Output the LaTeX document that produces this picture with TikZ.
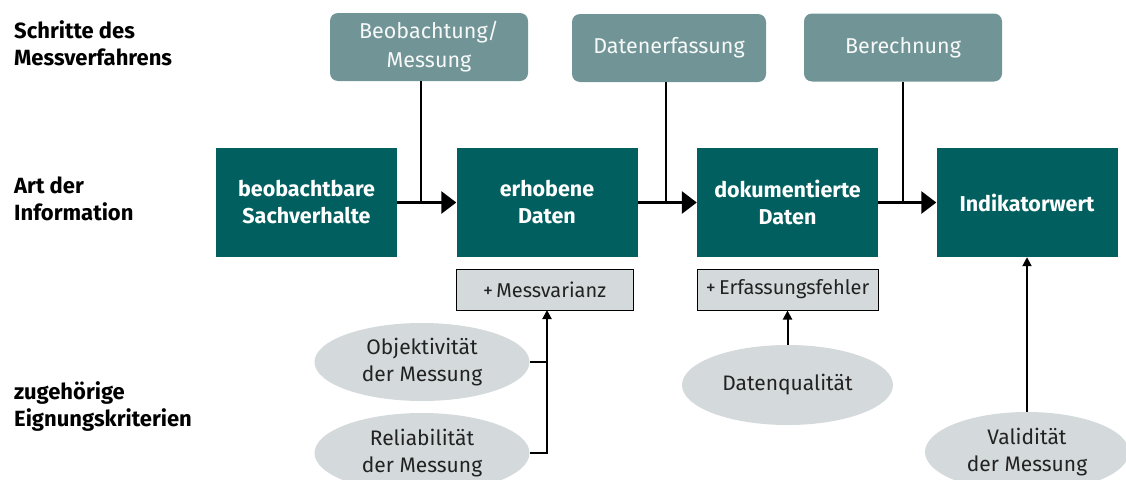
\documentclass[tikz,border=0pt]{standalone}
\usepackage{fontspec}
\setmainfont{Fira Sans}
\usetikzlibrary{arrows.meta,shapes.geometric}
\definecolor{stepfill}{HTML}{719596}
\definecolor{infofill}{HTML}{01605F}
\definecolor{greyfill}{HTML}{D4D9DB}
\definecolor{darktext}{HTML}{222222}
\begin{document}
\begin{tikzpicture}[x=1pt,y=-1pt,
  rowlabel/.style={anchor=west, align=left, inner sep=0pt,
    font=\fontsize{22}{27}\selectfont\bfseries},
  stepbox/.style={rounded corners=8pt, fill=stepfill, text=white!94!stepfill,
    align=center, inner sep=0pt, minimum height=68pt,
    font=\fontsize{21.5}{29}\selectfont},
  infobox/.style={fill=infofill, text=white, align=center, inner sep=0pt,
    minimum width=181pt, minimum height=109pt,
    font=\fontsize{21.5}{27}\selectfont\bfseries},
  errbox/.style={fill=greyfill, draw=black, line width=1pt, text=darktext,
    inner sep=0pt, minimum height=41pt, font=\fontsize{20}{22}\selectfont},
  critnode/.style={ellipse, fill=greyfill, text=darktext, align=center,
    inner sep=0pt, minimum height=78pt, font=\fontsize{21}{27}\selectfont},
  flow/.style={line width=3pt, -{Triangle[length=15pt,width=22pt]}},
  feed/.style={line width=2pt},
  feedarrow/.style={line width=2pt, -{Triangle[length=9pt,width=9pt]}}
]
\clip (0,0) rectangle (1126,479);
\useasboundingbox (0,0) rectangle (1126,479);

% row labels
\node[rowlabel] (l1) at (14,43.5) {Schritte des\\Messverfahrens};
\node[rowlabel] (l2) at (14,198.5) {Art der\\Information};
\node[rowlabel] (l3) at (14,406.5) {zugehörige\\Eignungskriterien};

% measuring steps
\node[stepbox, minimum width=198pt] (t1) at (429,47) {Beobachtung/\\Messung};
\node[stepbox, minimum width=194pt] (t2) at (669,48) {Datenerfassung};
\node[stepbox, minimum width=198pt] (t3) at (903,47.5) {Berechnung};

% kinds of information
\node[infobox] (b1) at (306.5,202.5) {beobachtbare\\Sachverhalte};
\node[infobox] (b2) at (547,202.5) {erhobene\\Daten};
\node[infobox] (b3) at (787.5,202.5) {dokumentierte\\Daten};
\node[infobox] (b4) at (1027,202.5) {Indikatorwert};

% added errors
\node[errbox, minimum width=177pt] (m1) at (544.5,289.5) {+\,Messvarianz};
\node[errbox, minimum width=181pt] (m2) at (787.5,289.5) {+\,Erfassungsfehler};

% criteria
\node[critnode, minimum width=215pt] (e1) at (422,362) {Objektivität\\der Messung};
\node[critnode, minimum width=215pt, minimum height=80pt] (e2) at (422,453) {Reliabilität\\der Messung};
\node[critnode, minimum width=211pt, minimum height=80pt] (e3) at (787.5,385) {Datenqualität};
\node[critnode, minimum width=204pt, minimum height=80pt] (e4) at (1027,452) {Validität\\der Messung};

% main flow
\draw[flow] (b1) -- (b2);
\draw[flow] (b2) -- (b3);
\draw[flow] (b3) -- (b4);

% step feeds into the flow
\coordinate (j1) at (421,202.5);
\coordinate (j2) at (666,202.5);
\coordinate (j3) at (903,202.5);
\draw[feed] (t1.south -| j1) -- (j1);
\draw[feed] (t2.south -| j2) -- (j2);
\draw[feed] (t3.south -| j3) -- (j3);

% criteria links
\coordinate (k1) at (547,310);
\draw[feed] (e1.east) -- (e1.east -| k1);
\draw[feedarrow] (e2.east) -- (e2.east -| k1) -- (k1);
\draw[feedarrow] (e3.north) -- (e3.north |- m2.south);
\draw[feedarrow] (e4.north) -- (e4.north |- b4.south);
\end{tikzpicture}
\end{document}
